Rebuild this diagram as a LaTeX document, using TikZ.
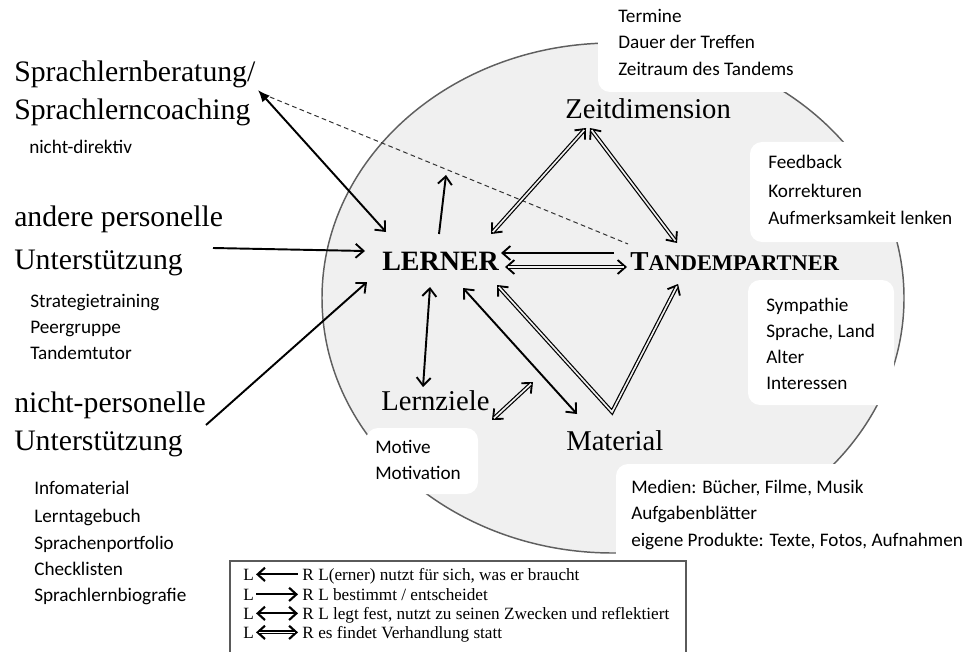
\documentclass[tikz,border=0pt]{standalone}
\usepackage{fontspec}
\setmainfont{Liberation Serif}
\newfontfamily\calib{Carlito}
\usetikzlibrary{arrows.meta,calc}
\definecolor{ellfill}{RGB}{240,240,240}
\definecolor{ellline}{RGB}{95,95,95}
\definecolor{legline}{RGB}{90,90,90}
\begin{document}
\begin{tikzpicture}[x=0.75pt,y=-0.75pt,
  >={Straight Barb[length=6pt,width=10.5pt,line width=1.4pt]},
  bigtxt/.style={anchor=base west,inner sep=0pt,font=\fontsize{22.3pt}{26pt}\selectfont},
  midtxt/.style={anchor=base west,inner sep=0pt,font=\fontsize{21.5pt}{25pt}\selectfont},
  smalltxt/.style={anchor=base west,inner sep=0pt,font=\calib\fontsize{14.4pt}{17pt}\selectfont},
  legtxt/.style={anchor=base west,inner sep=0pt,font=\fontsize{12.9pt}{15pt}\selectfont},
  wbox/.style={fill=white,rounded corners=9pt},
  sarrow/.style={line width=1.45pt},
  tipseg/.style={line width=1.2pt,->},
  dbl/.style={draw=black,double=ellfill,double distance=1.25pt,line width=0.9pt,line join=miter},
  legarrow/.style={line width=1.6pt,shorten <=1.5pt,shorten >=3pt,
    >={Straight Barb[length=5.5pt,width=10pt,line width=1.6pt]}},
  dashline/.style={draw=black!80,line width=0.75pt,dash pattern=on 3.5pt off 2.5pt}
]
\useasboundingbox (0,0) rectangle (966,652);

% big ellipse
\draw[fill=ellfill,draw=ellline,line width=1.1pt] (613,298) ellipse [x radius=291,y radius=255];

% white boxes
\path[wbox] (598,-12) rectangle (812,92);
\path[wbox] (750,142) rectangle (985,242);
\path[wbox] (748,280) rectangle (894,405);
\path[wbox] (366,428) rectangle (478,494);
\path[wbox] (616,464) rectangle (985,565);

% left column
\node[bigtxt] (slb) at (14,82) {Sprachlernberatung/};
\node[bigtxt] (slc) at (14,120) {Sprachlerncoaching};
\node[smalltxt] (nd) at (29,154) {nicht-direktiv};
\node[bigtxt] (ap1) at (14,227) {andere personelle};
\node[bigtxt] (ap2) at (14,269) {Unterstützung};
\node[smalltxt] (st) at (30,307) {Strategietraining};
\node[smalltxt] (pg) at (30,333) {Peergruppe};
\node[smalltxt] (tt) at (30,359) {Tandemtutor};
\node[bigtxt] (np1) at (14,412) {nicht-personelle};
\node[bigtxt] (np2) at (14,450) {Unterstützung};
\node[smalltxt] (im) at (34,494) {Infomaterial};
\node[smalltxt] (ltb) at (34,522) {Lerntagebuch};
\node[smalltxt] (spf) at (34,549) {Sprachenportfolio};
\node[smalltxt] (chk) at (34,575) {Checklisten};
\node[smalltxt] (slbio) at (34,601) {Sprachlernbiografie};

% centre labels
\node[midtxt] (zeit) at (565,119) {Zeitdimension};
\node[anchor=base west,inner sep=0pt,font=\bfseries\fontsize{21pt}{24pt}\selectfont] (lerner) at (382,270) {LERNER};
\node[anchor=base west,inner sep=0pt,font=\bfseries] (tandem) at (630,270)
  {{\fontsize{20.5pt}{24pt}\selectfont T}{\fontsize{16.8pt}{20pt}\selectfont ANDEMPARTNER}};
\node[midtxt] (lz) at (381,410) {Lernziele};
\node[midtxt] (mat) at (566,450) {Material};

% box texts
\node[smalltxt] (b1a) at (618,23) {Termine};
\node[smalltxt] (b1b) at (618,49) {Dauer der Treffen};
\node[smalltxt] (b1c) at (618,76) {Zeitraum des Tandems};
\node[smalltxt] (b2a) at (768,169) {Feedback};
\node[smalltxt] (b2b) at (768,198) {Korrekturen};
\node[smalltxt] (b2c) at (768,224) {Aufmerksamkeit lenken};
\node[smalltxt] (b3a) at (766,311) {Sympathie};
\node[smalltxt] (b3b) at (766,337) {Sprache, Land};
\node[smalltxt] (b3c) at (766,363) {Alter};
\node[smalltxt] (b3d) at (766,389) {Interessen};
\node[smalltxt] (b4a) at (375,453) {Motive};
\node[smalltxt] (b4b) at (375,479) {Motivation};
\node[smalltxt] (b5a) at (631,493) {Medien: Bücher, Filme, Musik};
\node[smalltxt] (b5b) at (631,519) {Aufgabenblätter};
\node[smalltxt] (b5c) at (631,546) {eigene Produkte: Texte, Fotos, Aufnahmen};

% connector end points
\coordinate (sbA) at (258,90);
\coordinate (lnA) at (386,232);
\coordinate (apA) at (213,248);
\coordinate (lnB) at (365,251);
\coordinate (npA) at (206,425);
\coordinate (lnC) at (367,282);
\coordinate (upA) at (439,234);
\coordinate (upB) at (446,175);
\coordinate (lnZ) at (491,234);
\coordinate (zL) at (586,128);
\coordinate (zT) at (590,128);
\coordinate (tZ) at (677,243);
\coordinate (tL1) at (614,253);
\coordinate (lT1) at (501,253);
\coordinate (lT2) at (505,267);
\coordinate (tL2) at (627,267);
\coordinate (lM) at (463,288);
\coordinate (mL) at (577,414);
\coordinate (lV) at (497,285);
\coordinate (vB) at (612,412);
\coordinate (tV) at (678,284);
\coordinate (lZ1) at (430,287);
\coordinate (zlA) at (423,387);
\coordinate (zlB) at (492,420);
\coordinate (mZ) at (533,382);
\coordinate (dsA) at (270,97);
\coordinate (dsB) at (628,244);

% dashed line
\draw[dashline] (dsA) -- (dsB);

% single arrows
\draw[sarrow,{Latex[length=9pt,width=7.5pt]}->] (sbA) -- (lnA);
\draw[sarrow,->] (apA) -- (lnB);
\draw[sarrow,->] (npA) -- (lnC);
\draw[sarrow,->] (upA) -- (upB);
\draw[sarrow,->] (tL1) -- (lT1);
\draw[sarrow,<->] (lM) -- (mL);
\draw[sarrow,<->] (lZ1) -- (zlA);

% double arrows
\draw[tipseg] ($(lnZ)!10pt!(zL)$) -- (lnZ);
\draw[tipseg] ($(zL)!10pt!(lnZ)$) -- (zL);
\draw[dbl,shorten <=2pt,shorten >=2pt] (lnZ) -- (zL);

\draw[tipseg] ($(zT)!10pt!(tZ)$) -- (zT);
\draw[tipseg] ($(tZ)!10pt!(zT)$) -- (tZ);
\draw[dbl,shorten <=2pt,shorten >=2pt] (zT) -- (tZ);

\draw[tipseg] ($(lT2)!10pt!(tL2)$) -- (lT2);
\draw[tipseg] ($(tL2)!10pt!(lT2)$) -- (tL2);
\draw[dbl,shorten <=2pt,shorten >=2pt] (lT2) -- (tL2);

\draw[tipseg] ($(zlB)!10pt!(mZ)$) -- (zlB);
\draw[tipseg] ($(mZ)!10pt!(zlB)$) -- (mZ);
\draw[dbl,shorten <=2pt,shorten >=2pt] (zlB) -- (mZ);

\draw[tipseg] ($(lV)!10pt!(vB)$) -- (lV);
\draw[tipseg] ($(tV)!10pt!(vB)$) -- (tV);
\draw[dbl,shorten <=2pt,shorten >=2pt] (lV) -- (vB) -- (tV);

% legend
\draw[draw=legline,line width=0.8pt] (230,561) rectangle (686,662);
\node[legtxt] (lgL1) at (243,580) {L};
\node[legtxt] (lgR1) at (302,580) {R};
\node[legtxt] (lgT1) at (318,580) {L(erner) nutzt für sich, was er braucht};
\node[legtxt] (lgL2) at (243,600) {L};
\node[legtxt] (lgR2) at (302,600) {R};
\node[legtxt] (lgT2) at (318,600) {L bestimmt / entscheidet};
\node[legtxt] (lgL3) at (243,619) {L};
\node[legtxt] (lgR3) at (302,619) {R};
\node[legtxt] (lgT3) at (318,619) {L legt fest, nutzt zu seinen Zwecken und reflektiert};
\node[legtxt] (lgL4) at (243,638) {L};
\node[legtxt] (lgR4) at (302,638) {R};
\node[legtxt] (lgT4) at (318,638) {es findet Verhandlung statt};

\draw[legarrow,<-] (lgL1.east) -- (lgR1.west);
\draw[legarrow,->] (lgL2.east) -- (lgR2.west);
\draw[legarrow,<->] (lgL3.east) -- (lgR3.west);
\coordinate (q1) at ($(lgL4.east)+(2,0)$);
\coordinate (q2) at ($(lgR4.west)+(-4,0)$);
\draw[tipseg,>={Straight Barb[length=5.5pt,width=10pt,line width=1.6pt]}] ($(q1)!8pt!(q2)$) -- (q1);
\draw[tipseg,>={Straight Barb[length=5.5pt,width=10pt,line width=1.6pt]}] ($(q2)!8pt!(q1)$) -- (q2);
\draw[dbl,double=white,shorten <=2pt,shorten >=2pt] (q1) -- (q2);
\end{tikzpicture}
\end{document}
